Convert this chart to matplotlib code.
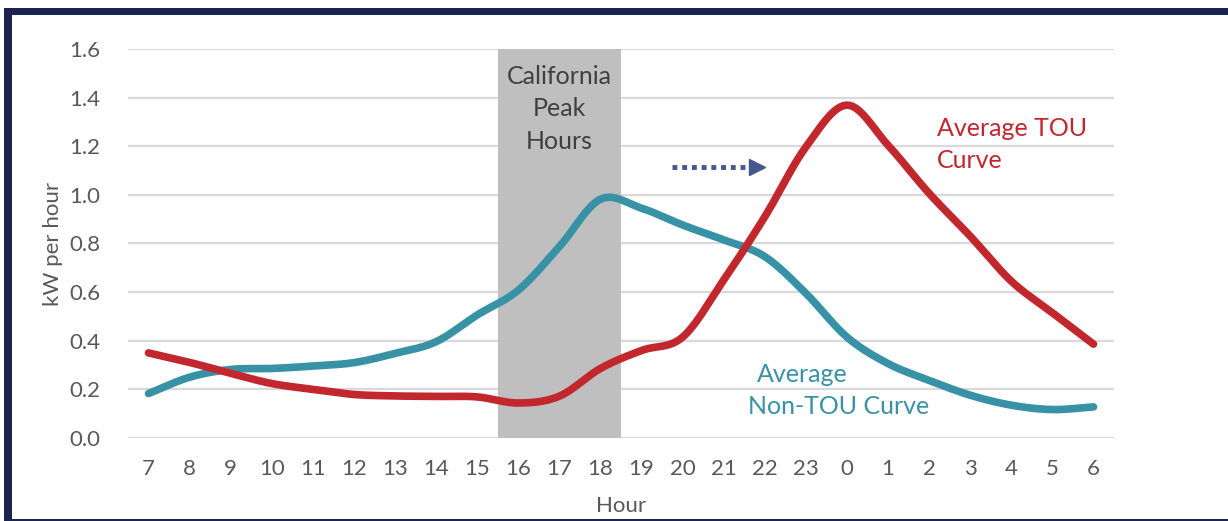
import numpy as np
import matplotlib
matplotlib.use("Agg")
import matplotlib.pyplot as plt
from matplotlib.patches import Rectangle

hours = ["7", "8", "9", "10", "11", "12", "13", "14", "15", "16", "17", "18",
         "19", "20", "21", "22", "23", "0", "1", "2", "3", "4", "5", "6"]
non_tou = [0.183, 0.25, 0.282, 0.286, 0.296, 0.31, 0.348, 0.396, 0.506, 0.608,
           0.787, 0.982, 0.945, 0.876, 0.815, 0.746, 0.595, 0.415, 0.306, 0.237,
           0.176, 0.135, 0.117, 0.128]
tou = [0.35, 0.311, 0.266, 0.224, 0.2, 0.179, 0.173, 0.171, 0.169, 0.144,
       0.172, 0.286, 0.36, 0.415, 0.65, 0.91, 1.197, 1.369, 1.204, 1.006,
       0.83, 0.645, 0.515, 0.386]
peak_hours = ["16", "17", "18"]
yticks = [0.0, 0.2, 0.4, 0.6, 0.8, 1.0, 1.2, 1.4, 1.6]

TEAL = "#3892A5"
RED = "#C1272D"
NAVY = "#1B2350"
GRAY_TXT = "#595959"

plt.rcParams['font.family'] = ['Lato', 'DejaVu Sans']


def smooth(x, y, n=20):
    # Catmull-Rom style smoothing similar to spreadsheet "smoothed line"
    x = np.asarray(x, float)
    y = np.asarray(y, float)
    px = np.concatenate([[2 * x[0] - x[1]], x, [2 * x[-1] - x[-2]]])
    py = np.concatenate([[2 * y[0] - y[1]], y, [2 * y[-1] - y[-2]]])
    xs, ys = [], []
    for i in range(1, len(px) - 2):
        t = np.linspace(0, 1, n, endpoint=False)
        for arr, out in ((px, xs), (py, ys)):
            p0, p1, p2, p3 = arr[i - 1], arr[i], arr[i + 1], arr[i + 2]
            b1 = p1 + (p2 - p0) / 6
            b2 = p2 - (p3 - p1) / 6
            out.extend((1 - t) ** 3 * p1 + 3 * (1 - t) ** 2 * t * b1
                       + 3 * (1 - t) * t ** 2 * b2 + t ** 3 * p2)
    xs.append(x[-1])
    ys.append(y[-1])
    return np.array(xs), np.array(ys)


fig = plt.figure(figsize=(12.28, 5.21), dpi=100)
ax = fig.add_axes([0.1042, 0.1593, 0.803, 0.7467])

xpos = np.arange(len(hours))
i0 = hours.index(peak_hours[0])
i1 = hours.index(peak_hours[-1])
ax.axvspan(i0 - 0.5, i1 + 0.5, ymin=0, ymax=1, color="#BFBFBF", zorder=1, lw=0)

for v in yticks:
    ax.axhline(v, color="#D9D9D9", lw=1.6, zorder=0)

sx, sy = smooth(xpos, non_tou)
ax.plot(sx, sy, color=TEAL, lw=5.5, solid_capstyle='round', zorder=3)
sx, sy = smooth(xpos, tou)
ax.plot(sx, sy, color=RED, lw=5.5, solid_capstyle='round', zorder=4)

ax.set_xlim(-0.5, len(hours) - 0.5)
ax.set_ylim(0, 1.6)
ax.set_xticks(xpos)
ax.set_xticklabels(hours)
ax.set_yticks(yticks)
ax.set_yticklabels([f"{v:.1f}" for v in yticks])
ax.tick_params(length=0, labelsize=16, labelcolor=GRAY_TXT)
ax.tick_params(axis='x', pad=15)
ax.tick_params(axis='y', pad=20)
for s in ax.spines.values():
    s.set_visible(False)
ax.set_xlabel("Hour", fontsize=16, color=GRAY_TXT, labelpad=12)
ax.set_ylabel("kW per hour", fontsize=16, color=GRAY_TXT, labelpad=4)

ax.text((i0 + i1) / 2, 1.355, "California\nPeak\nHours", ha='center', va='center',
        fontsize=18, color="#404040", linespacing=1.5, zorder=5)
ax.text(19.2, 1.207, "Average TOU\nCurve", ha='left', va='center', fontsize=18,
        color=RED, linespacing=1.45, zorder=5)
ax.text(14.8, 0.263, "Average", ha='left', va='center', fontsize=18,
        color=TEAL, zorder=5)
ax.text(14.6, 0.13, "Non-TOU Curve", ha='left', va='center', fontsize=18,
        color=TEAL, zorder=5)

# dotted arrow
ax.plot([12.74, 14.72], [1.116, 1.116], color="#44578F", lw=3.5,
        linestyle=(0, (1, 1)), zorder=5)
ax.plot([14.8], [1.116], marker='>', color="#44578F", markersize=11, zorder=5)

# border
fig.patches.append(Rectangle((4 / 1228, 1 - 15 / 521), 1, 7 / 521,
                             transform=fig.transFigure, color=NAVY, lw=0))
fig.patches.append(Rectangle((4 / 1228, 0), 8 / 1228, 1 - 8 / 521,
                             transform=fig.transFigure, color=NAVY, lw=0))
fig.patches.append(Rectangle((4 / 1228, 0), 1, 2 / 521,
                             transform=fig.transFigure, color=NAVY, lw=0))

fig.savefig("out.png", dpi=100)
